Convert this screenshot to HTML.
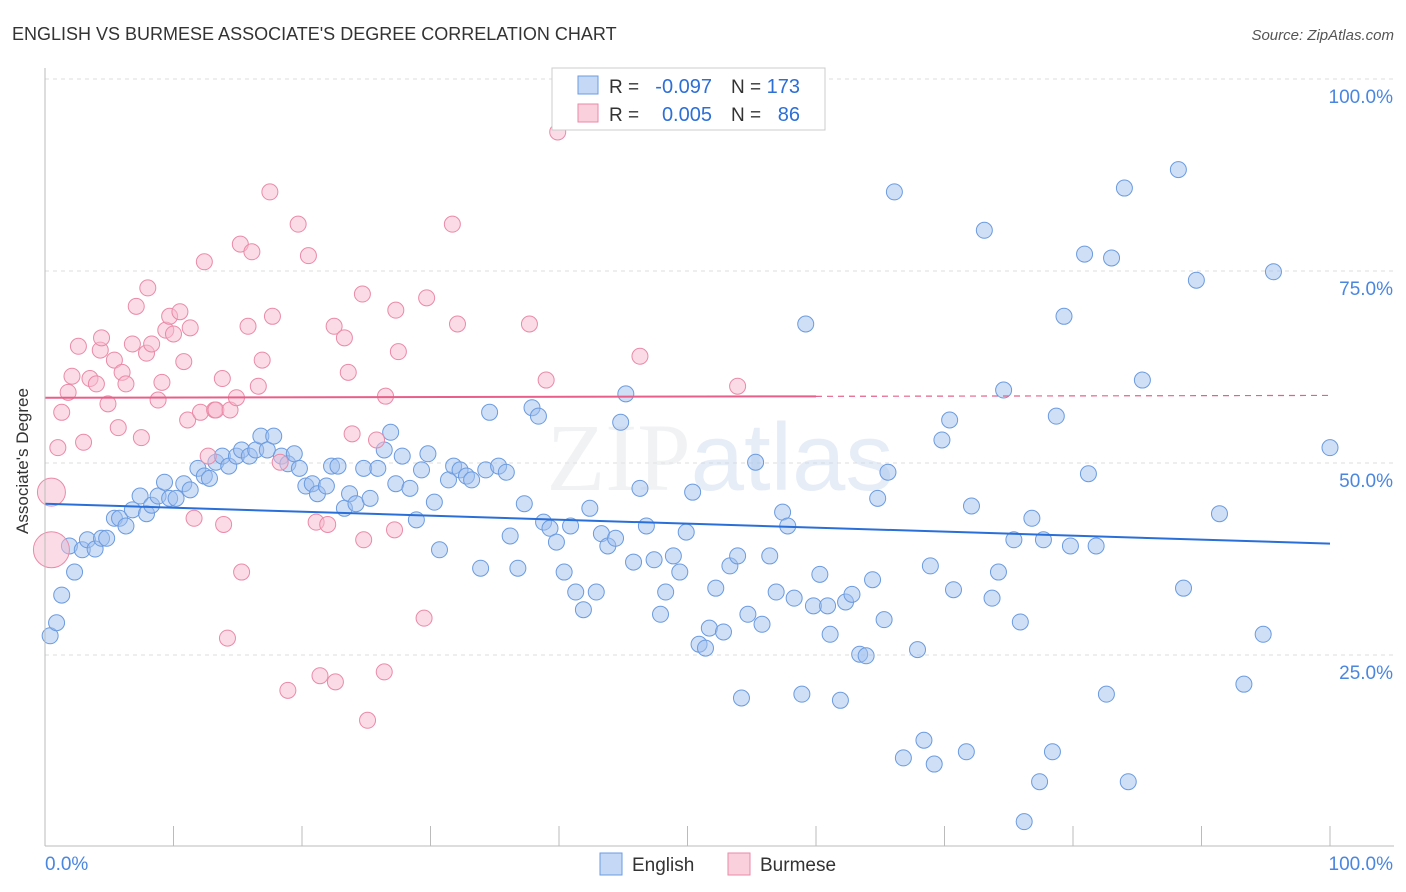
<!DOCTYPE html>
<html><head><meta charset="utf-8"><style>
body{margin:0;background:#fff;font-family:"Liberation Sans",sans-serif;}
svg{display:block}
</style></head><body>
<svg id="chart" width="1406" height="892" xmlns="http://www.w3.org/2000/svg">
<text x="12" y="40" font-size="18" fill="#333">ENGLISH VS BURMESE ASSOCIATE'S DEGREE CORRELATION CHART</text>
<text x="1394" y="40" font-size="15" fill="#555" font-style="italic" text-anchor="end">Source: ZipAtlas.com</text>
<g id="grid"></g>
<text x="720" y="490" font-size="96" text-anchor="middle" fill="#e3e6ea" opacity="0.5" font-family="Liberation Serif,serif">ZIP<tspan fill="#cfdcf0" font-family="Liberation Sans,sans-serif">atlas</tspan></text>
<g id="pts"></g>
<g id="trend"></g>
<g id="axes"></g>
<g>
<rect x="552" y="68" width="273" height="62" fill="#fff" stroke="#ccc"/>
<rect x="578" y="76" width="20" height="18" fill="#c5d8f5" stroke="#6b9be0"/>
<rect x="578" y="104" width="20" height="18" fill="#fbd0dd" stroke="#ea8aa8"/>
<text x="609" y="93" font-size="19" fill="#333">R =</text>
<text x="712" y="93" font-size="20" fill="#2d6fd6" text-anchor="end">-0.097</text>
<text x="731" y="93" font-size="19" fill="#333">N =</text>
<text x="800" y="93" font-size="20" fill="#2d6fd6" text-anchor="end">173</text>
<text x="609" y="121" font-size="19" fill="#333">R =</text>
<text x="712" y="121" font-size="20" fill="#2d6fd6" text-anchor="end">0.005</text>
<text x="731" y="121" font-size="19" fill="#333">N =</text>
<text x="800" y="121" font-size="20" fill="#2d6fd6" text-anchor="end">86</text>
</g>
<g>
<rect x="600" y="853" width="22" height="22" fill="#c5d8f5" stroke="#6b9be0"/>
<text x="632" y="871" font-size="19" fill="#333">English</text>
<rect x="728" y="853" width="22" height="22" fill="#fbd0dd" stroke="#ea8aa8"/>
<text x="760" y="871" font-size="19" fill="#333">Burmese</text>
</g>
<text x="22" y="455" font-size="17" fill="#333" text-anchor="middle" transform="rotate(-90 28 455)">Associate's Degree</text>
</svg>
<script>
const englishX=[0.4,0.9,1.3,1.9,2.3,2.9,3.3,3.9,4.4,4.8,5.4,5.8,6.3,6.8,7.4,7.9,8.3,8.8,9.3,9.7,10.2,10.8,11.3,11.9,12.4,12.8,13.3,13.8,14.3,14.9,15.3,15.9,16.4,16.8,17.3,17.8,18.4,18.9,19.4,19.8,20.3,20.8,21.2,21.9,22.3,22.8,23.3,23.7,24.2,24.8,25.3,25.9,26.4,26.9,27.3,27.8,28.4,28.9,29.3,29.8,30.3,30.7,31.4,31.8,32.3,32.8,33.2,33.9,34.3,34.6,35.3,35.9,36.2,36.8,37.3,37.9,38.4,38.8,39.3,39.8,40.4,40.9,41.3,41.9,42.4,42.9,43.3,43.8,44.4,44.8,45.2,45.8,46.3,46.8,47.4,47.9,48.3,48.9,49.4,49.9,50.4,50.9,51.4,51.7,52.2,52.8,53.3,53.9,54.2,54.7,55.3,55.8,56.4,56.9,57.4,57.8,58.3,58.9,59.2,59.8,60.3,60.9,61.1,61.9,62.3,62.8,63.4,63.9,64.4,64.8,65.3,65.6,66.1,66.8,67.9,68.4,68.9,69.2,69.8,70.4,70.7,71.7,72.1,73.1,73.7,74.2,74.6,75.4,75.9,76.8,77.4,77.7,78.4,78.7,79.3,79.8,80.9,81.2,81.8,82.6,83.0,84.0,84.3,85.4,88.2,88.6,89.6,91.4,93.3,94.8,95.6,100,76.2];
const englishY=[27.5,29.2,32.8,39.2,35.8,38.7,40,38.8,40.2,40.2,42.8,42.8,41.8,43.9,45.7,43.4,44.5,45.7,47.5,45.4,45.4,47.3,46.5,49.3,48.3,48,50.1,50.9,49.6,50.9,51.7,50.9,51.7,53.5,51.7,53.5,50.9,49.9,51.2,49.3,47,47.3,46,47,49.6,49.6,44.1,46,44.7,49.3,45.4,49.3,51.7,54,47.3,50.9,46.7,42.6,49.1,51.2,44.9,38.7,47.8,49.6,49.1,48.3,47.8,36.3,49.1,56.6,49.6,48.8,40.5,36.3,44.7,57.2,56.1,42.3,41.5,39.7,35.8,41.8,33.2,30.9,44.1,33.2,40.8,39.2,40.2,55.3,59,37.1,46.7,41.8,37.4,30.3,33.2,37.9,35.8,41,46.2,26.4,25.9,28.5,33.7,28,36.6,37.9,19.4,30.3,50.1,29,37.9,33.2,43.6,41.8,32.4,19.9,68.1,31.4,35.5,31.4,27.7,19.1,31.9,32.9,25.1,24.9,34.8,45.4,29.6,48.8,85.3,11.6,25.7,13.9,36.6,10.8,53,55.6,33.5,12.4,44.4,80.3,32.4,35.8,59.5,40,29.3,42.8,8.5,40,12.4,56.1,69.1,39.2,77.2,48.6,39.2,19.9,76.7,85.8,8.5,60.8,88.2,33.7,73.8,43.4,21.2,27.7,74.9,52,3.3];
const burmeseX=[0.5,0.5,1,1.3,1.8,2.1,2.6,3,3.5,4,4.3,4.4,4.9,5.4,5.7,6,6.3,6.8,7.1,7.5,7.9,8,8.3,8.8,9.1,9.4,9.7,10,10.5,10.8,11.1,11.3,11.6,12.1,12.4,12.7,13.2,13.3,13.8,13.9,14.2,14.4,14.9,15.2,15.3,15.8,16.1,16.6,16.9,17.5,17.7,18.3,18.9,19.7,20.5,21.1,21.4,22,22.5,22.6,23.3,23.6,23.9,24.7,24.8,25.1,25.8,26.4,26.5,27.2,27.3,27.5,29.5,29.7,31.7,32.1,37.7,39,39.9,46.3,53.9];
const burmeseY=[38.7,46.2,52,56.6,59.2,61.3,65.2,52.7,61,60.3,64.7,66.3,57.7,63.4,54.6,61.8,60.3,65.5,70.4,53.3,64.3,72.8,65.5,58.2,60.5,67.3,69.1,66.8,69.7,63.2,55.6,67.6,42.8,56.6,76.2,50.9,56.9,56.9,61,42,27.2,56.9,58.5,78.5,35.8,67.8,77.5,60,63.4,85.3,69.1,50.1,20.4,81.1,77,42.3,22.3,42,67.8,21.5,66.3,61.8,53.8,72,40,16.5,53,22.8,58.7,41.3,69.9,64.5,29.8,71.5,81.1,68.1,68.1,60.8,93.1,63.9,60];
const burmeseSize=[18,14];
const yTicks=[25,50,75,100];
const yTickLabels=["25.0%","50.0%","75.0%","100.0%"];
const xTicks=[0,10,20,30,40,50,60,70,80,90,100];
const englishTrend=[44.7,39.5];
const burmeseTrend=[58.5,58.8];
const burmeseSolidEnd=60;

const X=v=>45+v*12.85, Y=v=>847-v*7.68;
const NS="http://www.w3.org/2000/svg";
function mk(p,tag,attrs){const e=document.createElementNS(NS,tag);for(const k in attrs)e.setAttribute(k,attrs[k]);p.appendChild(e);return e;}
const grid=document.getElementById('grid'),axes=document.getElementById('axes'),pts=document.getElementById('pts'),trend=document.getElementById('trend');
yTicks.forEach((t,i)=>{
 const l=mk(grid,'line',{x1:45,x2:1394,y1:Y(t),y2:Y(t),stroke:'#ddd','stroke-dasharray':'4,4'});
 
 
 const tx=mk(axes,'text',{x:1393,y:Y(t)+24,'font-size':19,fill:'#4a86e0','text-anchor':'end'});
 tx.textContent=yTickLabels[i];
 
 
});
const ax=mk(axes,'line',{x1:45,x2:1394,y1:846,y2:846,stroke:'#bbb'});


const ay=mk(axes,'line',{x1:45,x2:45,y1:68,y2:846,stroke:'#bbb'});


xTicks.forEach(t=>{const l=mk(axes,'line',{x1:X(t),x2:X(t),y1:826,y2:846,stroke:'#bbb'});
 
 });
[[0,"0.0%","start",45],[100,"100.0%","end",1393]].forEach(a=>{const t=mk(axes,'text',{x:a[3],y:870,'font-size':19,fill:'#4a86e0','text-anchor':a[2]});t.textContent=a[1];
 
 });
englishX.forEach((x,i)=>{const c=mk(pts,'circle',{cx:X(x),cy:Y(englishY[i]),r:8,fill:'rgba(160,192,238,0.5)',stroke:'#6b9be0','stroke-width':1});
 
 });
burmeseX.forEach((x,i)=>{const r=i<burmeseSize.length?burmeseSize[i]:8;const c=mk(pts,'circle',{cx:X(x),cy:Y(burmeseY[i]),r:r,fill:'rgba(248,186,206,0.5)',stroke:'#ea8aa8','stroke-width':1});
 
 });
const el=mk(trend,'line',{x1:X(0),x2:X(100),y1:Y(englishTrend[0]),y2:Y(englishTrend[1]),stroke:'#2a6fd8','stroke-width':2});


const bm=burmeseTrend[0]+(burmeseTrend[1]-burmeseTrend[0])*burmeseSolidEnd/100;
const bl=mk(trend,'line',{x1:X(0),x2:X(burmeseSolidEnd),y1:Y(burmeseTrend[0]),y2:Y(bm),stroke:'#e8608a','stroke-width':2});


const bd=mk(trend,'line',{x1:X(burmeseSolidEnd),x2:X(100),y1:Y(bm),y2:Y(burmeseTrend[1]),stroke:'#e8608a','stroke-width':1.2,'stroke-dasharray':'6,5'});


</script>
</body></html>
